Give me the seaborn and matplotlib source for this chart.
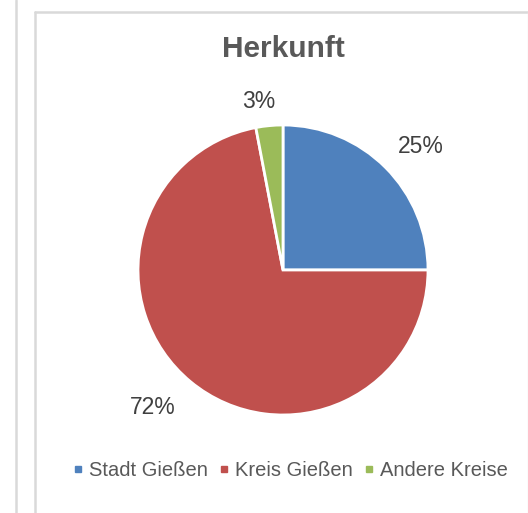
import matplotlib
matplotlib.use("Agg")
import matplotlib.pyplot as plt
from matplotlib.lines import Line2D
import seaborn as sns

# data
kategorien = ["Stadt Gießen", "Kreis Gießen", "Andere Kreise"]
anteile = [25, 72, 3]
farben = ["#4F81BD", "#C0504D", "#9BBB59"]
titel = "Herkunft"

sns.set_theme(style="white")
plt.rcParams['font.family'] = ['Liberation Sans', 'DejaVu Sans']

W, H = 528, 513
fig = plt.figure(figsize=(W / 100, H / 100), dpi=100)

# pie axes: centre (283, 270) px, radius 145 px
cx, cy, r = 283, 270, 145
ax = fig.add_axes([(cx - r) / W, (H - cy - r) / H, 2 * r / W, 2 * r / H])
wedges, texts, autotexts = ax.pie(
    anteile, colors=farben, startangle=90, counterclock=False,
    autopct='%1.0f%%', pctdistance=1.25,
    wedgeprops=dict(edgecolor='white', linewidth=2),
    textprops=dict(color='#404040', fontsize=16.5))
ax.set_xlim(-1, 1)
ax.set_ylim(-1, 1)
ax.set_aspect('equal')
ax.axis('off')

# nudge labels a bit like the original
autotexts[0].set_position((0.95, 0.85))
autotexts[1].set_position((-0.9, -0.95))
autotexts[2].set_position((-0.17, 1.16))

fig.text(cx / W, 1 - 49 / H, titel, ha='center', va='center',
         fontsize=21.5, fontweight='bold', color='#595959')

# legend
handles = [Line2D([], [], marker='s', linestyle='', markersize=5,
                  markerfacecolor=c, markeredgecolor=c) for c in farben]
fig.legend(handles, kategorien, loc='center', ncol=3,
           bbox_to_anchor=(291 / W, 1 - 471 / H), frameon=False,
           handlelength=0.3, handletextpad=0.4, columnspacing=0.65,
           fontsize=14.5, labelcolor='#595959')

# surrounding frame lines
grau = '#d9d9d9'
fig.add_artist(Line2D([15.5 / W, 15.5 / W], [0, 1], color=grau, lw=1.8))
fig.add_artist(Line2D([34.5 / W, 34.5 / W], [0, 1 - 12 / H], color=grau, lw=1.8))
fig.add_artist(Line2D([34.5 / W, 1], [1 - 12 / H, 1 - 12 / H], color=grau, lw=1.8))
fig.add_artist(Line2D([527.5 / W, 527.5 / W], [0, 1 - 12 / H], color='#eeeeee', lw=1))

fig.savefig('out.png', dpi=100, facecolor='white')
